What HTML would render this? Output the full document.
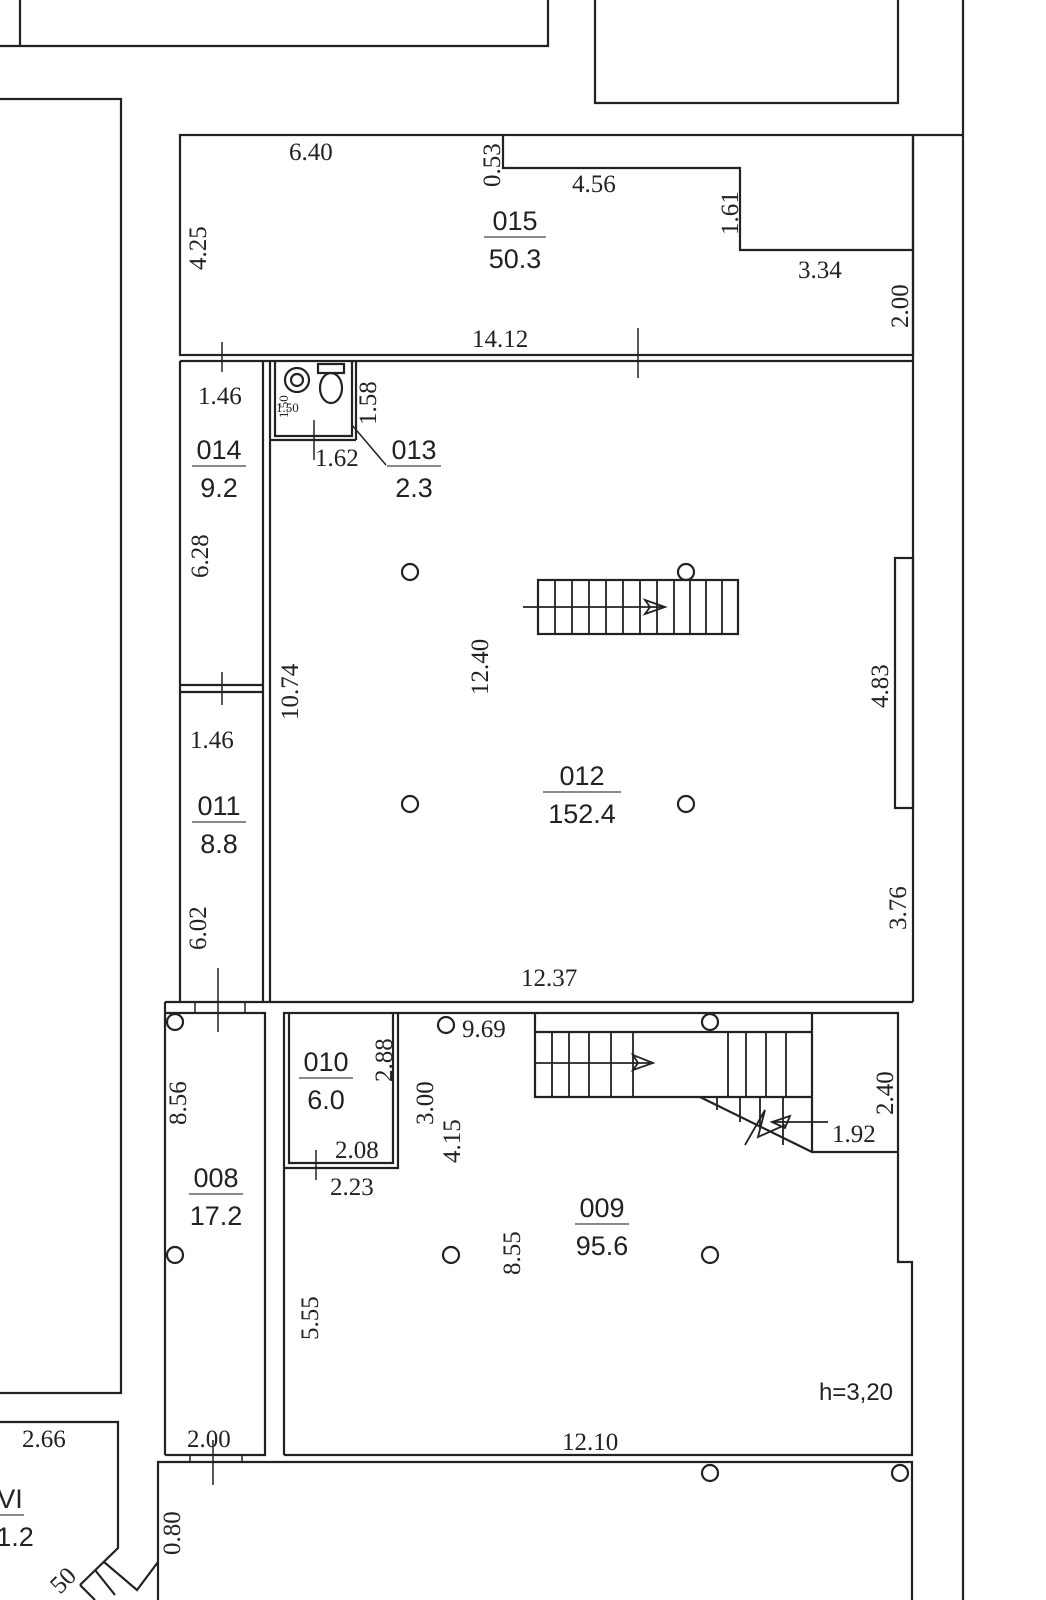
<!DOCTYPE html>
<html><head><meta charset="utf-8"><style>
html,body{margin:0;padding:0;background:#fff;}
svg{display:block;}
.n{font-family:"Liberation Serif",serif;font-size:25px;fill:#222;}
.r{font-family:"Liberation Sans",sans-serif;font-size:27px;fill:#222;}
</style></head><body>
<svg width="1046" height="1600" viewBox="0 0 1046 1600" xmlns="http://www.w3.org/2000/svg">
<g fill="none" stroke="#222" stroke-width="2.2">
<!-- top -->
<polyline points="0,46 548,46 548,0"/>
<line x1="20" y1="0" x2="20" y2="46"/>
<polyline points="595,0 595,103 898,103 898,0"/>
<line x1="963" y1="0" x2="963" y2="1600"/>
<line x1="913" y1="135" x2="963" y2="135"/>
<!-- left big box -->
<polyline points="0,99 121,99 121,1393 0,1393"/>
<!-- room 015 -->
<rect x="180" y="135" width="733" height="220"/>
<polyline points="503,135 503,168 740,168 740,250 913,250"/>
<line x1="180" y1="361" x2="913" y2="361"/>
<line x1="222" y1="342" x2="222" y2="372" stroke-width="1.5"/>
<line x1="638" y1="328" x2="638" y2="378" stroke-width="1.5"/>
<!-- 014/011 column -->
<line x1="180" y1="361" x2="180" y2="1002"/>
<line x1="263" y1="361" x2="263" y2="1002"/>
<line x1="270" y1="361" x2="270" y2="1002"/>
<line x1="180" y1="685" x2="263" y2="685"/>
<line x1="180" y1="692" x2="263" y2="692"/>
<line x1="222" y1="672" x2="222" y2="705" stroke-width="1.5"/>
<!-- room 012 -->
<line x1="913" y1="135" x2="913" y2="1002"/>
<line x1="165" y1="1002" x2="913" y2="1002"/>
<rect x="895" y="558" width="18" height="250"/>
<!-- toilet -->
<polyline points="275,361 275,436 352,436 352,361"/>
<line x1="270" y1="440" x2="356" y2="440"/>
<line x1="356" y1="361" x2="356" y2="440"/>
<line x1="314" y1="420" x2="314" y2="460" stroke-width="1.5"/>
<line x1="352" y1="425" x2="386" y2="465" stroke-width="1.5"/>
<circle cx="297" cy="380" r="12"/><circle cx="297" cy="380" r="6"/>
<rect x="318" y="364" width="26" height="9"/>
<ellipse cx="331" cy="388" rx="11" ry="15"/>
<!-- stairs 012 -->
<rect x="538" y="580" width="200" height="54"/>
<g stroke-width="1.8">
<line x1="555" y1="580" x2="555" y2="634"/><line x1="572" y1="580" x2="572" y2="634"/>
<line x1="589" y1="580" x2="589" y2="634"/><line x1="606" y1="580" x2="606" y2="634"/>
<line x1="623" y1="580" x2="623" y2="634"/><line x1="640" y1="580" x2="640" y2="634"/>
<line x1="657" y1="580" x2="657" y2="634"/><line x1="674" y1="580" x2="674" y2="634"/>
<line x1="690" y1="580" x2="690" y2="634"/><line x1="706" y1="580" x2="706" y2="634"/>
<line x1="722" y1="580" x2="722" y2="634"/>
<line x1="523" y1="607" x2="665" y2="607"/>
<polygon points="645,600 665,607 645,614 650,607"/>
</g>
<!-- columns -->
<circle cx="410" cy="572" r="8"/><circle cx="686" cy="572" r="8"/>
<circle cx="410" cy="804" r="8"/><circle cx="686" cy="804" r="8"/>
<!-- bottom section -->
<line x1="165" y1="1002" x2="165" y2="1455"/>
<polyline points="165,1013 265,1013 265,1455 165,1455"/>
<line x1="218" y1="968" x2="218" y2="1032" stroke-width="1.5"/>
<line x1="195" y1="1002" x2="195" y2="1013" stroke-width="1.5"/>
<line x1="245" y1="1002" x2="245" y2="1013" stroke-width="1.5"/>
<polyline points="284,1455 284,1013 898,1013 898,1262 912,1262 912,1455 284,1455"/>
<polyline points="289,1013 289,1163 393,1163 393,1013"/>
<polyline points="284,1168 398,1168 398,1013"/>
<line x1="316" y1="1150" x2="316" y2="1180" stroke-width="1.5"/>
<!-- stairs 009 -->
<polyline points="535,1013 535,1097 812,1097"/>
<line x1="535" y1="1032" x2="812" y2="1032"/>
<line x1="812" y1="1013" x2="812" y2="1152"/>
<polyline points="700,1097 812,1152 898,1152"/>
<g stroke-width="1.8">
<line x1="552" y1="1032" x2="552" y2="1097"/><line x1="569" y1="1032" x2="569" y2="1097"/>
<line x1="589" y1="1032" x2="589" y2="1097"/><line x1="611" y1="1032" x2="611" y2="1097"/>
<line x1="633" y1="1032" x2="633" y2="1097"/>
<line x1="728" y1="1032" x2="728" y2="1097"/><line x1="746" y1="1032" x2="746" y2="1097"/>
<line x1="766" y1="1032" x2="766" y2="1097"/><line x1="786" y1="1032" x2="786" y2="1097"/>
<line x1="535" y1="1063" x2="650" y2="1063"/>
<polygon points="633,1055 653,1063 633,1070 638,1063"/>
<line x1="717" y1="1097" x2="717" y2="1110"/><line x1="740" y1="1097" x2="740" y2="1122"/>
<line x1="760" y1="1097" x2="760" y2="1130"/><line x1="783" y1="1097" x2="783" y2="1145"/>
<polyline points="745,1145 765,1110 758,1137 785,1125"/>
<line x1="772" y1="1122" x2="828" y2="1122"/>
<polygon points="772,1122 790,1116 785,1128"/>
</g>
<circle cx="446" cy="1025" r="8"/><circle cx="710" cy="1022" r="8"/>
<circle cx="175" cy="1022" r="8"/><circle cx="175" cy="1255" r="8"/>
<circle cx="451" cy="1255" r="8"/><circle cx="710" cy="1255" r="8"/>
<!-- bottom row -->
<polyline points="158,1600 158,1462 912,1462 912,1600"/>
<line x1="213" y1="1440" x2="213" y2="1485" stroke-width="1.5"/>
<line x1="190" y1="1455" x2="190" y2="1462" stroke-width="1.5"/>
<line x1="242" y1="1455" x2="242" y2="1462" stroke-width="1.5"/>
<circle cx="710" cy="1473" r="8"/><circle cx="900" cy="1473" r="8"/>
<polyline points="0,1422 118,1422 118,1548 80,1585"/>
<polyline points="158,1562 137,1590 104,1562"/>
<line x1="80" y1="1585" x2="95" y2="1600"/><line x1="95" y1="1570" x2="115" y2="1595"/>
</g>
<!-- dimension labels -->
<g class="n">
<text x="289" y="160">6.40</text>
<text x="572" y="192">4.56</text>
<text x="798" y="278">3.34</text>
<text x="472" y="347">14.12</text>
<text x="198" y="404">1.46</text>
<text x="190" y="748">1.46</text>
<text x="315" y="466">1.62</text>
<text x="521" y="986">12.37</text>
<text x="462" y="1037">9.69</text>
<text x="335" y="1158">2.08</text>
<text x="330" y="1195">2.23</text>
<text x="832" y="1142">1.92</text>
<text x="187" y="1447">2.00</text>
<text x="562" y="1450">12.10</text>
<text x="22" y="1447">2.66</text>
<text x="276" y="412" font-size="13">1.50</text>
<text transform="translate(288,418) rotate(-90)" font-size="13">1.50</text>
<text transform="translate(500,187) rotate(-90)">0.53</text>
<text transform="translate(738,235) rotate(-90)">1.61</text>
<text transform="translate(908,328) rotate(-90)">2.00</text>
<text transform="translate(206,270) rotate(-90)">4.25</text>
<text transform="translate(376,425) rotate(-90)">1.58</text>
<text transform="translate(208,578) rotate(-90)">6.28</text>
<text transform="translate(298,720) rotate(-90)">10.74</text>
<text transform="translate(488,695) rotate(-90)">12.40</text>
<text transform="translate(888,708) rotate(-90)">4.83</text>
<text transform="translate(906,930) rotate(-90)">3.76</text>
<text transform="translate(206,950) rotate(-90)">6.02</text>
<text transform="translate(186,1125) rotate(-90)">8.56</text>
<text transform="translate(392,1082) rotate(-90)">2.88</text>
<text transform="translate(433,1125) rotate(-90)">3.00</text>
<text transform="translate(460,1163) rotate(-90)">4.15</text>
<text transform="translate(520,1275) rotate(-90)">8.55</text>
<text transform="translate(318,1340) rotate(-90)">5.55</text>
<text transform="translate(893,1115) rotate(-90)">2.40</text>
<text transform="translate(180,1555) rotate(-90)">0.80</text>
<text transform="translate(60,1595) rotate(-45)">50</text>
</g>
<!-- room labels -->
<g class="r" text-anchor="middle">
<text x="515" y="230">015</text><text x="515" y="268">50.3</text>
<text x="219" y="459">014</text><text x="219" y="497">9.2</text>
<text x="414" y="459">013</text><text x="414" y="497">2.3</text>
<text x="582" y="785">012</text><text x="582" y="823">152.4</text>
<text x="219" y="815">011</text><text x="219" y="853">8.8</text>
<text x="326" y="1071">010</text><text x="326" y="1109">6.0</text>
<text x="216" y="1187">008</text><text x="216" y="1225">17.2</text>
<text x="602" y="1217">009</text><text x="602" y="1255">95.6</text>
<text x="856" y="1400" font-size="24">h=3,20</text>
<text x="10" y="1508">VI</text><text x="15" y="1546">1.2</text>
</g>
<g stroke="#444" stroke-width="1.3">
<line x1="484" y1="237" x2="546" y2="237"/>
<line x1="192" y1="466" x2="246" y2="466"/><line x1="387" y1="466" x2="441" y2="466"/>
<line x1="543" y1="792" x2="621" y2="792"/><line x1="192" y1="822" x2="246" y2="822"/>
<line x1="299" y1="1078" x2="353" y2="1078"/><line x1="189" y1="1194" x2="243" y2="1194"/>
<line x1="575" y1="1224" x2="629" y2="1224"/><line x1="0" y1="1515" x2="24" y2="1515"/>
</g>
</svg>
</body></html>
